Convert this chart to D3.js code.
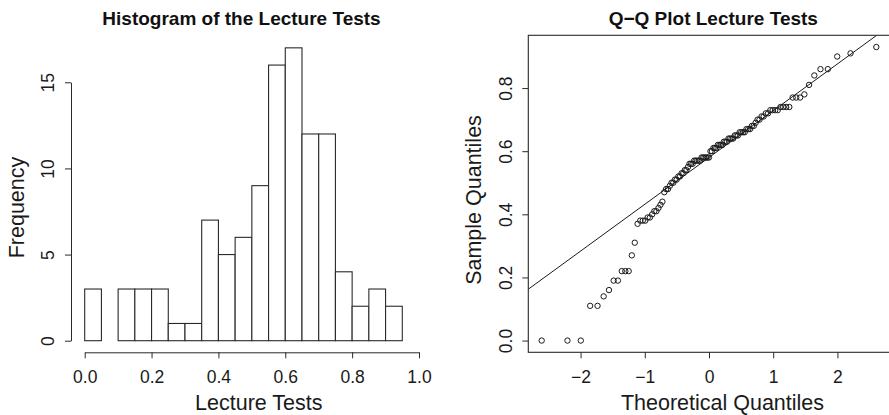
<!DOCTYPE html>
<html>
<head>
<meta charset="utf-8">
<script src="https://cdn.jsdelivr.net/npm/d3@7"></script>
<style>
  html, body { margin: 0; padding: 0; background: #fff; }
  svg { display: block; font-family: "Liberation Sans", Arial, Helvetica, sans-serif; }
  .axis path, .axis line { stroke: #2a2a2a; stroke-width: 1; }
  .axis text { fill: #1a1a1a; font-size: 17.5px; }
</style>
</head>
<body>
<svg id="chart" width="889" height="415"></svg>
<script>
// Histogram bin edges and counts of the lecture test scores
const breaks = [0.00, 0.05, 0.10, 0.15, 0.20, 0.25, 0.30, 0.35, 0.40, 0.45,
                0.50, 0.55, 0.60, 0.65, 0.70, 0.75, 0.80, 0.85, 0.90, 0.95];
const counts = [3, 0, 3, 3, 3, 1, 1, 7, 5, 6, 9, 16, 17, 12, 12, 4, 2, 3, 2];

// Sorted lecture test scores (sample quantiles)
const scores = [
  0.00, 0.00, 0.00, 0.11, 0.11, 0.14, 0.16, 0.19, 0.19, 0.22,
  0.22, 0.22, 0.27, 0.31, 0.37, 0.38, 0.38, 0.38, 0.39, 0.39,
  0.40, 0.41, 0.41, 0.42, 0.43, 0.44, 0.47, 0.48, 0.48, 0.49,
  0.50, 0.50, 0.51, 0.51, 0.52, 0.52, 0.53, 0.53, 0.54, 0.54,
  0.55, 0.56, 0.56, 0.56, 0.57, 0.57, 0.57, 0.57, 0.57, 0.58,
  0.58, 0.58, 0.58, 0.58, 0.58, 0.60, 0.60, 0.61, 0.61, 0.61,
  0.62, 0.62, 0.62, 0.62, 0.63, 0.63, 0.63, 0.64, 0.64, 0.64,
  0.64, 0.65, 0.65, 0.65, 0.66, 0.66, 0.66, 0.66, 0.67, 0.67,
  0.67, 0.68, 0.68, 0.69, 0.70, 0.70, 0.71, 0.71, 0.72, 0.72,
  0.73, 0.73, 0.73, 0.73, 0.74, 0.74, 0.74, 0.74, 0.77, 0.77,
  0.77, 0.78, 0.81, 0.84, 0.86, 0.86, 0.90, 0.91, 0.93
];

// Tick values and labels
const histXTicks = [0, 0.2, 0.4, 0.6, 0.8, 1.0];
const histXLabels = ["0.0", "0.2", "0.4", "0.6", "0.8", "1.0"];
const histYTicks = [0, 5, 10, 15];
const histYLabels = ["0", "5", "10", "15"];
const qqXTicks = [-2, -1, 0, 1, 2];
const qqXLabels = ["\u22122", "\u22121", "0", "1", "2"];
const qqYTicks = [0, 0.2, 0.4, 0.6, 0.8];
const qqYLabels = ["0.0", "0.2", "0.4", "0.6", "0.8"];

// Inverse of the standard normal CDF (Acklam's rational approximation)
function qnorm(p) {
  const a = [-3.969683028665376e+01, 2.209460984245205e+02, -2.759285104469687e+02,
             1.383577518672690e+02, -3.066479806614716e+01, 2.506628277459239e+00];
  const b = [-5.447609879822406e+01, 1.615858368580409e+02, -1.556989798598866e+02,
             6.680131188771972e+01, -1.328068155288572e+01];
  const c = [-7.784894002430293e-03, -3.223964580411365e-01, -2.400758277161838e+00,
             -2.549732539343734e+00, 4.374664141464968e+00, 2.938163982698783e+00];
  const d = [7.784695709041462e-03, 3.224671290700398e-01, 2.445134137142996e+00,
             3.754408661907416e+00];
  const pl = 0.02425;
  let q, r;
  if (p < pl) {
    q = Math.sqrt(-2 * Math.log(p));
    return (((((c[0]*q+c[1])*q+c[2])*q+c[3])*q+c[4])*q+c[5]) /
           ((((d[0]*q+d[1])*q+d[2])*q+d[3])*q+1);
  } else if (p <= 1 - pl) {
    q = p - 0.5; r = q * q;
    return (((((a[0]*r+a[1])*r+a[2])*r+a[3])*r+a[4])*r+a[5])*q /
           (((((b[0]*r+b[1])*r+b[2])*r+b[3])*r+b[4])*r+1);
  } else {
    q = Math.sqrt(-2 * Math.log(1 - p));
    return -(((((c[0]*q+c[1])*q+c[2])*q+c[3])*q+c[4])*q+c[5]) /
            ((((d[0]*q+d[1])*q+d[2])*q+d[3])*q+1);
  }
}

const svg = d3.select("#chart");
const dark = "#2a2a2a";

// ---------- Left panel: histogram ----------
const hx = d3.scaleLinear().domain([0, 1]).range([84.7, 419]);
const hy = d3.scaleLinear().domain([0, 15]).range([340.7, 82.3]);
const histAxisY = 352.3;   // position of the x axis line
const histAxisX = 71;      // position of the y axis line

const bins = counts.map((c, i) => ({ x0: breaks[i], x1: breaks[i + 1] ?? breaks[i] + 0.05, n: c }));

svg.append("g").selectAll("rect")
  .data(bins.filter(b => b.n > 0))
  .join("rect")
  .attr("x", d => hx(d.x0))
  .attr("y", d => hy(d.n))
  .attr("width", d => hx(d.x1) - hx(d.x0))
  .attr("height", d => hy(0) - hy(d.n))
  .attr("fill", "#fff")
  .attr("stroke", dark)
  .attr("stroke-width", 1.1);

const hxAxis = d3.axisBottom(hx).tickValues(histXTicks)
  .tickFormat((d, i) => histXLabels[i]).tickSize(6).tickSizeOuter(0).tickPadding(12);
svg.append("g").attr("class", "axis").attr("transform", `translate(0,${histAxisY})`).call(hxAxis);

// y axis only spans the labelled tick range
const hyAxisScale = hy.copy();
const hyAxis = d3.axisLeft(hyAxisScale).tickValues(histYTicks)
  .tickFormat((d, i) => histYLabels[i]).tickSize(6).tickSizeOuter(0);
const gHy = svg.append("g").attr("class", "axis").attr("transform", `translate(${histAxisX},0)`).call(hyAxis);
gHy.selectAll(".tick text")
  .attr("x", null).attr("dy", null)
  .attr("text-anchor", "middle")
  .attr("transform", "translate(-17,0) rotate(-90)");

svg.append("text").attr("x", 241.5).attr("y", 25)
  .attr("text-anchor", "middle").attr("font-weight", "bold").attr("font-size", 19)
  .attr("fill", "#111").text("Histogram of the Lecture Tests");
svg.append("text").attr("x", 258.8).attr("y", 409.5)
  .attr("text-anchor", "middle").attr("font-size", 21.5).attr("fill", "#1a1a1a")
  .text("Lecture Tests");
svg.append("text").attr("transform", "translate(24,207.5) rotate(-90)")
  .attr("text-anchor", "middle").attr("font-size", 21.5).attr("fill", "#1a1a1a")
  .text("Frequency");

// ---------- Right panel: normal Q-Q plot ----------
const n = scores.length;
const theo = scores.map((_, i) => qnorm((i + 1 - 0.5) / n));
const pts = scores.map((s, i) => ({ t: theo[i], s }));

const pad = (lo, hi) => { const e = (hi - lo) * 0.04; return [lo - e, hi + e]; };
const qx = d3.scaleLinear().domain(pad(d3.min(theo), d3.max(theo))).range([528.3, 889.7]);
const qy = d3.scaleLinear().domain(pad(d3.min(scores), d3.max(scores))).range([352.3, 35.3]);

svg.append("clipPath").attr("id", "qqclip").append("rect")
  .attr("x", qx.range()[0]).attr("y", qy.range()[1])
  .attr("width", qx.range()[1] - qx.range()[0]).attr("height", qy.range()[0] - qy.range()[1]);

// reference line through the first and third quartiles
const q1 = d3.quantile(scores, 0.25), q3 = d3.quantile(scores, 0.75);
const z1 = qnorm(0.25), z3 = qnorm(0.75);
const slope = (q3 - q1) / (z3 - z1);
const intercept = q1 - slope * z1;
const [dx0, dx1] = qx.domain();
svg.append("line").attr("clip-path", "url(#qqclip)")
  .attr("x1", qx(dx0)).attr("y1", qy(intercept + slope * dx0))
  .attr("x2", qx(dx1)).attr("y2", qy(intercept + slope * dx1))
  .attr("stroke", "#1a1a1a").attr("stroke-width", 1);

svg.append("g").selectAll("circle")
  .data(pts).join("circle")
  .attr("cx", d => qx(d.t)).attr("cy", d => qy(d.s)).attr("r", 2.7)
  .attr("fill", "none").attr("stroke", "#1a1a1a").attr("stroke-width", 1);

const qxAxis = d3.axisBottom(qx).tickValues(qqXTicks)
  .tickFormat((d, i) => qqXLabels[i]).tickSize(6).tickSizeOuter(0).tickPadding(12);
const gQx = svg.append("g").attr("class", "axis").attr("transform", `translate(0,${qy.range()[0]})`).call(qxAxis);
gQx.select(".domain").remove();

const qyAxis = d3.axisLeft(qy).tickValues(qqYTicks)
  .tickFormat((d, i) => qqYLabels[i]).tickSize(6).tickSizeOuter(0);
const gQy = svg.append("g").attr("class", "axis").attr("transform", `translate(${qx.range()[0]},0)`).call(qyAxis);
gQy.select(".domain").remove();
gQy.selectAll(".tick text")
  .attr("x", null).attr("dy", null)
  .attr("text-anchor", "middle")
  .attr("transform", "translate(-16,0) rotate(-90)");

// plot box
svg.append("rect")
  .attr("x", qx.range()[0]).attr("y", qy.range()[1])
  .attr("width", qx.range()[1] - qx.range()[0]).attr("height", qy.range()[0] - qy.range()[1])
  .attr("fill", "none").attr("stroke", dark).attr("stroke-width", 1.1);

svg.append("text").attr("x", 713.3).attr("y", 25)
  .attr("text-anchor", "middle").attr("font-weight", "bold").attr("font-size", 19)
  .attr("fill", "#111").text("Q\u2212Q Plot Lecture Tests");
svg.append("text").attr("x", 722.5).attr("y", 409.5)
  .attr("text-anchor", "middle").attr("font-size", 21.5).attr("fill", "#1a1a1a")
  .text("Theoretical Quantiles");
svg.append("text").attr("transform", "translate(480.5,200) rotate(-90)")
  .attr("text-anchor", "middle").attr("font-size", 21.5).attr("fill", "#1a1a1a")
  .text("Sample Quantiles");
</script>
</body>
</html>
